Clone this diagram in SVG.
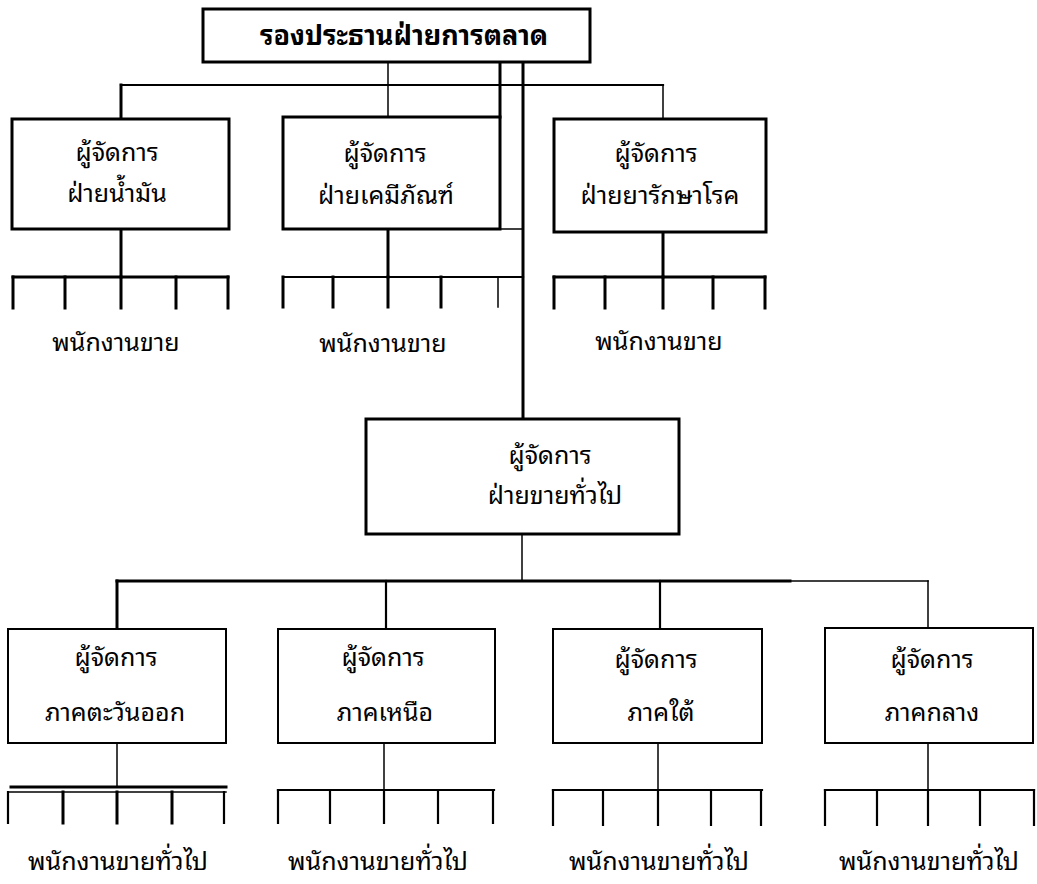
<svg xmlns="http://www.w3.org/2000/svg" width="1037" height="884" viewBox="0 0 1037 884">
  <style>
    .bg { fill: #ffffff; }
    .box { fill: #ffffff; stroke: #000000; stroke-width: 3; }
    .box-thin { fill: #ffffff; stroke: #000000; stroke-width: 2; }
    .thick { fill: none; stroke: #000000; stroke-width: 3; stroke-linecap: square; }
    .mid { fill: none; stroke: #000000; stroke-width: 2.2; stroke-linecap: square; }
    .thin { fill: none; stroke: #000000; stroke-width: 1.5; stroke-linecap: square; }
    .label { font-family: "Noto Sans Thai Looped", "Noto Serif Thai", "Noto Sans Thai", "Noto Sans", "DejaVu Sans", sans-serif; font-size: 25px; fill: #000000; text-anchor: middle; }
    .title { font-family: "Noto Sans Thai Looped", "Noto Serif Thai", "Noto Sans Thai", "Noto Sans", "DejaVu Sans", sans-serif; font-size: 27px; font-weight: bold; fill: #000000; text-anchor: middle; }
  </style>

  <rect class="bg" x="0" y="0" width="1037" height="884"/>

  <!-- connectors -->
  <g id="connectors">
    <!-- vice president to division managers -->
    <path class="thin" d="M388 62 V117"/>
    <path class="thick" d="M500 62 V117"/>
    <path class="thick" d="M523 62 V419"/>
    <path class="mid" d="M121 85 H663"/>
    <path class="thick" d="M121 85 V119"/>
    <path class="thin" d="M663 85 V119"/>
    <path class="thin" d="M500 229 H523"/>

    <!-- oil division sales staff -->
    <path class="thick" d="M121 229 V277"/>
    <path class="thick" d="M13 277 H228"/>
    <path class="thick" d="M13 277 V308 M65 277 V308 M121 277 V308 M176 277 V308 M228 277 V308"/>

    <!-- chemical division sales staff -->
    <path class="thick" d="M388 229 V277"/>
    <path class="mid" d="M283 277 H523"/>
    <path class="thick" d="M283 277 V307 M333 277 V307 M388 277 V307 M441 277 V307"/>
    <path class="thin" d="M498 277 V307"/>

    <!-- pharmaceutical division sales staff -->
    <path class="thick" d="M663 232 V277"/>
    <path class="thick" d="M554 277 H765"/>
    <path class="thick" d="M554 277 V308 M605 277 V308 M663 277 V308 M713 277 V308 M765 277 V308"/>

    <!-- general sales to regional managers -->
    <path class="thin" d="M522 534 V581"/>
    <path class="thick" d="M117 581 H790"/>
    <path class="thin" d="M790 581 H928"/>
    <path class="thick" d="M117 581 V629"/>
    <path class="mid" d="M386 581 V629"/>
    <path class="mid" d="M660 581 V629"/>
    <path class="thin" d="M928 581 V628"/>

    <!-- east region sales staff -->
    <path class="thin" d="M117 743 V787"/>
    <path class="thick" d="M11 787 H226"/>
    <path class="thin" d="M8 792 H226"/>
    <path class="mid" d="M8 792 V823 M224 792 V823"/>
    <path class="thick" d="M63 792 V823 M117 792 V823 M172 792 V823"/>

    <!-- north region sales staff -->
    <path class="thin" d="M384 743 V790"/>
    <path class="mid" d="M278 790 H494"/>
    <path class="mid" d="M278 790 V823 M330 790 V823 M384 790 V823 M438 790 V823 M493 790 V823"/>

    <!-- south region sales staff -->
    <path class="thin" d="M658 743 V790"/>
    <path class="mid" d="M553 790 H762"/>
    <path class="mid" d="M553 790 V825 M603 790 V825 M658 790 V825 M711 790 V825 M761 790 V825"/>

    <!-- central region sales staff -->
    <path class="thin" d="M928 743 V790"/>
    <path class="mid" d="M825 790 H1034"/>
    <path class="mid" d="M825 790 V825 M877 790 V825 M928 790 V825 M980 790 V825 M1034 790 V825"/>
  </g>

  <!-- vice president, marketing -->
  <g id="vp-marketing">
    <rect class="box" x="203" y="9" width="387" height="53"/>
    <text class="title" x="404" y="45">รองประธานฝ่ายการตลาด</text>
  </g>

  <!-- division managers -->
  <g id="mgr-oil">
    <rect class="box" x="12" y="119" width="217" height="110"/>
    <text class="label" x="117" y="161">ผู้จัดการ</text>
    <text class="label" x="117" y="202">ฝ่ายน้ำมัน</text>
  </g>
  <g id="mgr-chemical">
    <rect class="box" x="283" y="117" width="217" height="112"/>
    <text class="label" x="385" y="162">ผู้จัดการ</text>
    <text class="label" x="386" y="204">ฝ่ายเคมีภัณฑ์</text>
  </g>
  <g id="mgr-pharma">
    <rect class="box" x="554" y="119" width="212" height="113"/>
    <text class="label" x="656" y="162">ผู้จัดการ</text>
    <text class="label" x="660" y="204">ฝ่ายยารักษาโรค</text>
  </g>

  <!-- division sales staff -->
  <g id="staff-oil">
    <text class="label" x="116" y="351">พนักงานขาย</text>
  </g>
  <g id="staff-chemical">
    <text class="label" x="383" y="352">พนักงานขาย</text>
  </g>
  <g id="staff-pharma">
    <text class="label" x="659" y="350">พนักงานขาย</text>
  </g>

  <!-- general sales manager -->
  <g id="mgr-general-sales">
    <rect class="box" x="366" y="419" width="313" height="115"/>
    <text class="label" x="550" y="464">ผู้จัดการ</text>
    <text class="label" x="555" y="504">ฝ่ายขายทั่วไป</text>
  </g>

  <!-- regional managers -->
  <g id="mgr-east">
    <rect class="box-thin" x="8" y="629" width="218" height="114"/>
    <text class="label" x="116" y="666">ผู้จัดการ</text>
    <text class="label" x="115" y="721">ภาคตะวันออก</text>
  </g>
  <g id="mgr-north">
    <rect class="box-thin" x="278" y="629" width="217" height="114"/>
    <text class="label" x="383" y="666">ผู้จัดการ</text>
    <text class="label" x="385" y="721">ภาคเหนือ</text>
  </g>
  <g id="mgr-south">
    <rect class="box-thin" x="553" y="629" width="209" height="114"/>
    <text class="label" x="656" y="668">ผู้จัดการ</text>
    <text class="label" x="661" y="721">ภาคใต้</text>
  </g>
  <g id="mgr-central">
    <rect class="box-thin" x="825" y="628" width="208" height="115"/>
    <text class="label" x="932" y="668">ผู้จัดการ</text>
    <text class="label" x="932" y="721">ภาคกลาง</text>
  </g>

  <!-- regional sales staff -->
  <g id="staff-east">
    <text class="label" x="118" y="870">พนักงานขายทั่วไป</text>
  </g>
  <g id="staff-north">
    <text class="label" x="378" y="870">พนักงานขายทั่วไป</text>
  </g>
  <g id="staff-south">
    <text class="label" x="659" y="870">พนักงานขายทั่วไป</text>
  </g>
  <g id="staff-central">
    <text class="label" x="929" y="870">พนักงานขายทั่วไป</text>
  </g>
</svg>
